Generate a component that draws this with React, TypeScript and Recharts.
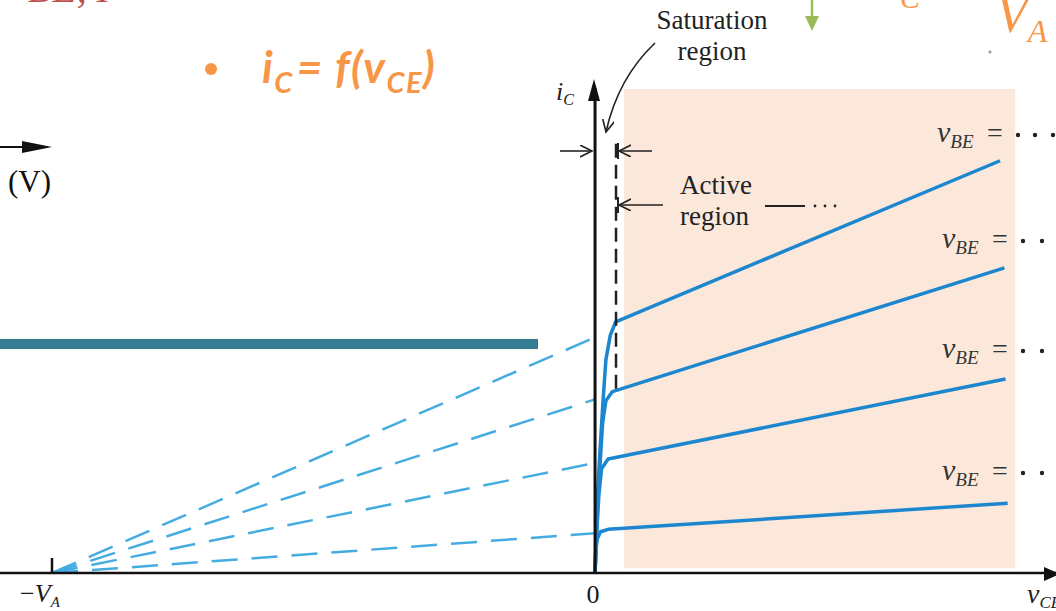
import React from 'react';
import { LineChart, Line, XAxis, YAxis, ReferenceArea, ReferenceLine } from 'recharts';

const W = 1056;
const H = 611;

// collector voltage axis (arbitrary units), Early voltage at -50
const vEarly = -50;
const vRange: [number, number] = [-54.8, 42.45];
const iRange: [number, number] = [0, 100];
const xTicks = [vEarly, 0];

// i_C vs v_CE for four v_BE steps: saturation knee, then the active region
const iC1 = [
  { v: 0, i: 0 }, { v: 0.2, i: 15 }, { v: 0.46, i: 25.4 }, { v: 0.74, i: 35.7 },
  { v: 1.0, i: 44 }, { v: 1.4, i: 49 }, { v: 1.9, i: 51.8 }, { v: 37.3, i: 85 },
];
const iC2 = [
  { v: 0, i: 0 }, { v: 0.2, i: 12 }, { v: 0.45, i: 22 }, { v: 0.7, i: 31 },
  { v: 1.0, i: 35.5 }, { v: 1.6, i: 37.4 }, { v: 37.7, i: 62.9 },
];
const iC3 = [
  { v: 0, i: 0 }, { v: 0.15, i: 8 }, { v: 0.35, i: 16 }, { v: 0.6, i: 21.5 },
  { v: 1.2, i: 23.5 }, { v: 37.8, i: 40 },
];
const iC4 = [
  { v: 0, i: 0 }, { v: 0.05, i: 4 }, { v: 0.2, i: 7 }, { v: 0.5, i: 8.5 },
  { v: 1.2, i: 9 }, { v: 38, i: 14.4 },
];
const curves = [iC1, iC2, iC3, iC4];

// where each active-region line, extended back to -V_A, meets v_CE = 0
const intercepts = [48.6, 35.8, 22.7, 8.2];

const satEdge = 1.93;
const activeBand = { x1: 2.67, x2: 38.7, y1: 1, y2: 99.8 };

const serif = '"Liberation Serif", "DejaVu Serif", serif';
const blue = '#1c86cf';
const dashBlue = '#45ace0';
const orange = '#f79646';

const AxisTick = (props: any) => {
  const { x, y, payload } = props;
  if (payload.value === 0) {
    return (
      <text x={x - 2} y={y + 28} textAnchor="middle" fontFamily={serif} fontSize={26} fill="#1a1a1a">
        0
      </text>
    );
  }
  return (
    <text x={x - 32} y={y + 27} fontFamily={serif} fontSize={26} fill="#1a1a1a">
      <tspan>−</tspan>
      <tspan fontStyle="italic">V</tspan>
      <tspan fontStyle="italic" fontSize={15} dy={5}>A</tspan>
    </text>
  );
};

const vbeLabels = [
  { x: 937, y: 142, dots: [1018, 1035, 1053] },
  { x: 942, y: 248, dots: [1023, 1042, 1061] },
  { x: 942, y: 358, dots: [1023, 1042, 1061] },
  { x: 942, y: 480, dots: [1023, 1042, 1061] },
];

const Overlay = () => (
  <svg width={W} height={H} style={{ position: 'absolute', left: 0, top: 0, pointerEvents: 'none' }}>
    <defs>
      <marker id="chev" markerUnits="userSpaceOnUse" markerWidth={16} markerHeight={16} refX={12} refY={6} orient="auto">
        <path d="M0,0 L12,6 L0,12" fill="none" stroke="#222" strokeWidth={1.6} />
      </marker>
    </defs>

    {/* slide text around the figure */}
    <text x={28} y={2} fontFamily={serif} fontStyle="italic" fontSize={40} fill="#c0504d">BE, I</text>
    <circle cx={211} cy={69} r={6} fill={orange} />
    <text x={262} y={83} fontFamily="Lato, sans-serif" fontStyle="italic" fontWeight={700} fontSize={44} letterSpacing={1.5} fill={orange}>
      <tspan>i</tspan>
      <tspan fontSize={29} dy={10}>C</tspan>
      <tspan dy={-10} dx={3}>= f(v</tspan>
      <tspan fontSize={29} dy={10}>CE</tspan>
      <tspan dy={-10}>)</tspan>
    </text>
    <line x1={812} y1={0} x2={812} y2={18} stroke="#9bbb59" strokeWidth={2.5} />
    <path d="M805,16 L819,16 L812,31 Z" fill="#9bbb59" />
    <text x={900} y={8} fontFamily={serif} fontStyle="italic" fontSize={30} fill={orange}>C</text>
    <text x={996} y={32} fontFamily={serif} fontStyle="italic" fontSize={52} fill={orange}>
      V<tspan fontSize={32} dy={10}>A</tspan>
    </text>
    <circle cx={990} cy={52} r={1.5} fill="#999" />

    {/* left fragment: arrow and unit */}
    <line x1={0} y1={147} x2={28} y2={147} stroke="#111" strokeWidth={2} />
    <path d="M22,141 L52,147 L22,153 Z" fill="#111" />
    <text x={8} y={192} fontFamily={serif} fontSize={31} fill="#111">(V)</text>
    <rect x={0} y={339} width={538} height={10} fill="#367c92" />

    {/* axis arrowheads and labels */}
    <path d="M588,101 L594,79 L600,101 Z" fill="#111" />
    <path d="M1044,567 L1060,574 L1044,581 Z" fill="#111" />
    <text x={556} y={100} fontFamily={serif} fontStyle="italic" fontSize={26} fill="#222">
      i<tspan fontSize={16} dy={5}>C</tspan>
    </text>
    <text x={1027} y={603} fontFamily={serif} fontStyle="italic" fontSize={28} fill="#222">
      v<tspan fontSize={17} dy={5}>CE</tspan>
    </text>
    <line x1={52} y1={558} x2={52} y2={573} stroke="#111" strokeWidth={2.5} />

    {/* saturation / active region callouts */}
    <text x={712} y={29} textAnchor="middle" fontFamily={serif} fontSize={27} fill="#222">Saturation</text>
    <text x={712} y={60} textAnchor="middle" fontFamily={serif} fontSize={27} fill="#222">region</text>
    <path d="M655,43 Q618,78 606,132" fill="none" stroke="#222" strokeWidth={1.6} markerEnd="url(#chev)" />
    <line x1={560} y1={151} x2={592} y2={151} stroke="#222" strokeWidth={1.6} markerEnd="url(#chev)" />
    <line x1={652} y1={151} x2={619} y2={151} stroke="#222" strokeWidth={1.6} markerEnd="url(#chev)" />
    <line x1={618} y1={143} x2={618} y2={159} stroke="#222" strokeWidth={2} />
    <line x1={663} y1={205} x2={619} y2={205} stroke="#222" strokeWidth={1.6} markerEnd="url(#chev)" />
    <line x1={618} y1={197} x2={618} y2={213} stroke="#222" strokeWidth={2} />
    <text x={680} y={194} fontFamily={serif} fontSize={27} fill="#222">Active</text>
    <text x={680} y={225} fontFamily={serif} fontSize={27} fill="#222">region</text>
    <line x1={765} y1={206} x2={805} y2={206} stroke="#222" strokeWidth={2} />
    {[815, 825, 835].map((cx) => (
      <circle key={cx} cx={cx} cy={206} r={1.4} fill="#222" />
    ))}

    {vbeLabels.map((l, n) => (
      <g key={n}>
        <text x={l.x} y={l.y} fontFamily={serif} fontStyle="italic" fontSize={30} fill="#333">
          v<tspan fontSize={19} dy={6}>BE</tspan>
        </text>
        <text x={l.x + 50} y={l.y} fontFamily={serif} fontSize={28} fill="#333">=</text>
        {l.dots.map((cx) => (
          <circle key={cx} cx={cx} cy={l.y - 7} r={2.2} fill="#222" />
        ))}
      </g>
    ))}
  </svg>
);

export default function App() {
  return (
    <div style={{ position: 'absolute', left: 0, top: 0, width: W, height: H, overflow: 'hidden', background: '#fff' }}>
      <LineChart width={W} height={H} margin={{ top: 88, right: 0, bottom: 8, left: 0 }}>
        <XAxis
          type="number"
          dataKey="v"
          domain={vRange}
          ticks={xTicks}
          interval={0}
          allowDataOverflow
          axisLine={{ stroke: '#111', strokeWidth: 2.5 }}
          tickLine={false}
          tickSize={0}
          tick={<AxisTick />}
          height={30}
        />
        <YAxis type="number" domain={iRange} allowDataOverflow hide />
        <ReferenceArea
          x1={activeBand.x1}
          x2={activeBand.x2}
          y1={activeBand.y1}
          y2={activeBand.y2}
          fill="#fbe8db"
          fillOpacity={1}
          stroke="none"
        />
        {intercepts.map((k, n) => (
          <Line
            key={'ext' + n}
            data={[{ v: vEarly, i: 0 }, { v: 0, i: k }]}
            dataKey="i"
            type="linear"
            stroke={dashBlue}
            strokeWidth={2.5}
            strokeDasharray="26 14"
            dot={false}
            activeDot={false}
            isAnimationActive={false}
          />
        ))}
        {curves.map((c, n) => (
          <Line
            key={'ic' + n}
            data={c}
            dataKey="i"
            type="linear"
            stroke={blue}
            strokeWidth={3.5}
            strokeLinejoin="round"
            dot={false}
            activeDot={false}
            isAnimationActive={false}
          />
        ))}
        <ReferenceLine x={0} stroke="#111" strokeWidth={3} />
        <ReferenceLine
          segment={[{ x: satEdge, y: 38 }, { x: satEdge, y: 88.7 }]}
          stroke="#222"
          strokeWidth={2.5}
          strokeDasharray="14 7"
        />
      </LineChart>
      <Overlay />
    </div>
  );
}
